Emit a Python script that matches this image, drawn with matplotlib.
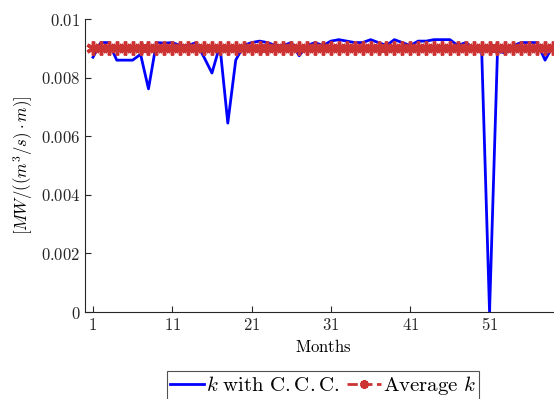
import matplotlib.pyplot as plt

plt.rcParams['mathtext.fontset'] = 'cm'
plt.rcParams['font.family'] = 'serif'
plt.rcParams['font.serif'] = ['DejaVu Serif']

# monthly k values
months = list(range(1, 61))
k_ccc = [0.0087, 0.0092, 0.0092, 0.0086, 0.0086, 0.0086, 0.0088, 0.00762, 0.0092, 0.00918,
         0.0092, 0.0091, 0.0091, 0.0092, 0.0087, 0.00816, 0.0091, 0.00645, 0.0086, 0.0091,
         0.0092, 0.00925, 0.0092, 0.0091, 0.0091, 0.0092, 0.00875, 0.0091, 0.0092, 0.0091,
         0.00925, 0.0093, 0.00925, 0.0092, 0.0092, 0.0093, 0.0092, 0.0091, 0.0093, 0.0092,
         0.0091, 0.00925, 0.00925, 0.0093, 0.0093, 0.0093, 0.0091, 0.0092, 0.0090, 0.0090,
         0.0, 0.0089, 0.00885, 0.0091, 0.0092, 0.0092, 0.0092, 0.0086, 0.0091, 0.0092]
avg_k = [0.00902] * len(months)

xticks = [1, 11, 21, 31, 41, 51]
yticks = [0, 0.002, 0.004, 0.006, 0.008, 0.01]
ytick_labels = ['0', '0.002', '0.004', '0.006', '0.008', '0.01']

fig = plt.figure(figsize=(5.54, 3.99), dpi=100)
ax = fig.add_axes([0.1535, 0.218, 0.859, 0.734])

ax.plot(months, k_ccc, color='blue', lw=2, label=r'$k\ \mathrm{with\ C.C.C.}$')
ax.plot(months, avg_k, color='#cc3333', lw=2, ls='--', marker=(6, 2, 0), ms=10, mew=2.5,
        label=r'$\mathrm{Average}\ k$')

ax.set_xlim(0, 60)
ax.set_ylim(0, 0.01)
ax.set_xticks(xticks)
ax.set_xticklabels(['$%d$' % t for t in xticks])
ax.set_yticks(yticks)
ax.set_yticklabels(['$%s$' % s for s in ytick_labels])
ax.tick_params(direction='in', labelsize=12, length=4, colors='#262626')
for s in ['top', 'right']:
    ax.spines[s].set_visible(False)
for s in ['left', 'bottom']:
    ax.spines[s].set_color('#262626')

ax.set_xlabel(r'$\mathrm{Months}$', fontsize=12)
ax.set_ylabel(r'$[MW/((m^3/s)\cdot m)]$', fontsize=12)

leg = ax.legend(loc='upper center', bbox_to_anchor=(0.5, -0.165), ncol=2, fontsize=15,
                frameon=True, fancybox=False, edgecolor='#262626', handlelength=1.6,
                handletextpad=0.1, columnspacing=0.4, borderpad=0.15, markerscale=0.6)
leg.get_frame().set_linewidth(0.8)

fig.savefig('out.png', dpi=100)
